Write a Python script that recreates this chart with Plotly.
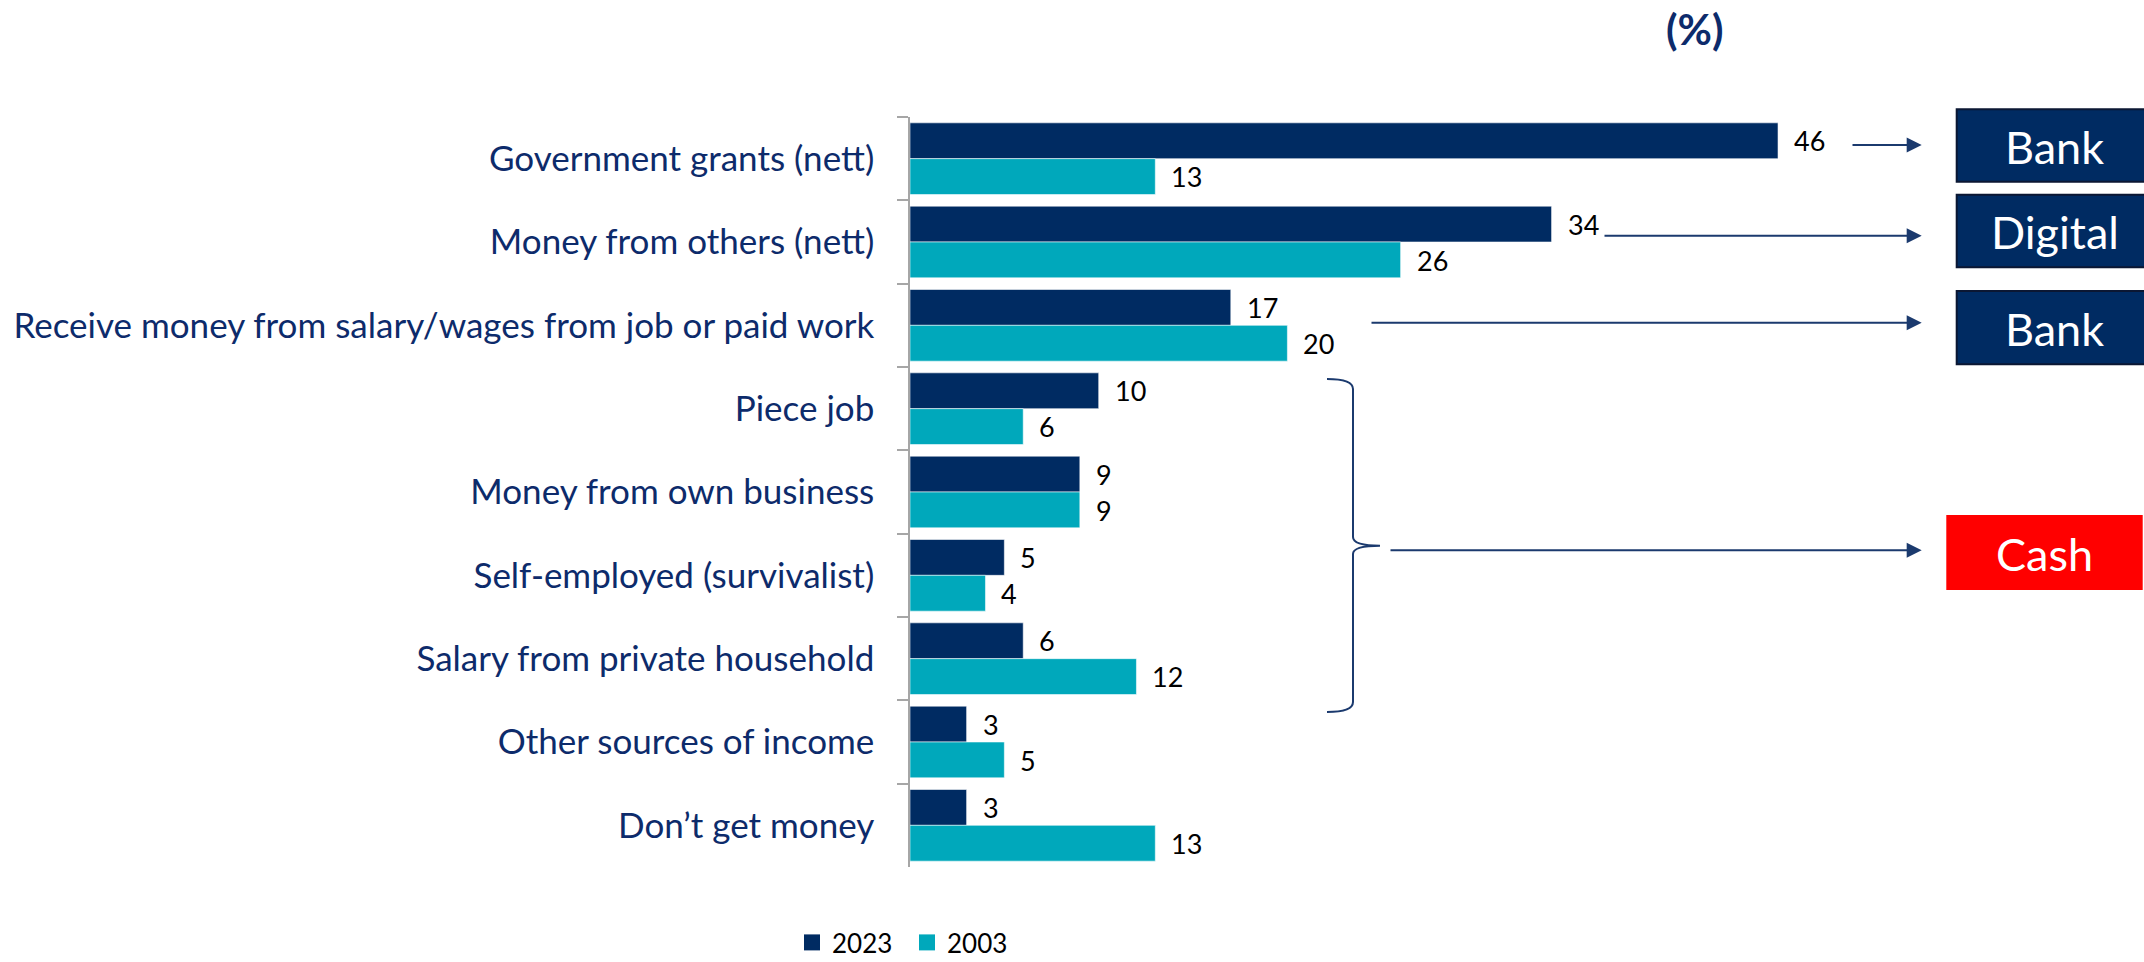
import plotly.graph_objects as go

# Income sources (top to bottom) and share of respondents, %
categories = [
    "Government grants (nett)",
    "Money from others (nett)",
    "Receive money from salary/wages from job or paid work",
    "Piece job",
    "Money from own business",
    "Self-employed (survivalist)",
    "Salary from private household",
    "Other sources of income",
    "Don\u2019t get money",
]
values_2023 = [46, 34, 17, 10, 9, 5, 6, 3, 3]
values_2003 = [13, 26, 20, 6, 9, 4, 12, 5, 13]
series_names = ["2023", "2003"]

# Channel boxes on the right: label, fill colour
channels = [("Bank", "#002B62"), ("Digital", "#002B62"), ("Bank", "#002B62"), ("Cash", "#FF0000")]

NAVY = "#002B62"
TEAL = "#00A8BB"
LABEL = "#0D2B6B"
ARROW = "#1B3A6E"

W, H = 2144, 962
L, R, T, B = 910, 8, 117, 95
PW, PH = W - L - R, H - T - B
PX_PER_UNIT = 18.87


def px(x):
    return (x - L) / PW


def py(y):
    return 1 - (y - T) / PH


fig = go.Figure()
for name, vals, col, shift in [(series_names[0], values_2023, NAVY, 18),
                               (series_names[1], values_2003, TEAL, -18)]:
    fig.add_trace(go.Bar(
        y=categories, x=vals, name=name, orientation="h", showlegend=False,
        marker=dict(color=col, line=dict(color="rgba(255,255,255,0.55)", width=1)),
        hoverinfo="skip", legendgroup=name,
    ))
    for c, v in zip(categories, vals):
        fig.add_annotation(
            x=v, y=c, xref="x", yref="y", text=str(v), showarrow=False,
            xanchor="left", yanchor="middle", xshift=14, yshift=shift,
            font=dict(family="Lato", size=27, color="#000000"),
        )

# Legend entries with larger square swatches
for name, col in [(series_names[0], NAVY), (series_names[1], TEAL)]:
    fig.add_trace(go.Scatter(
        x=[None], y=[None], mode="markers", name=name, legendgroup=name,
        marker=dict(symbol="square", size=18, color=col), hoverinfo="skip",
    ))

shapes = []
annotations = []

# Channel boxes
boxes = [(1956.7, 109.3, 2160, 181.7), (1956.7, 194.7, 2160, 267.3),
         (1956.7, 291.0, 2160, 364.3), (1947.3, 516.0, 2141.7, 589.0)]
for (label, fill), (x0, y0, x1, y1) in zip(channels, boxes):
    border = "#0B1733" if fill != "#FF0000" else "#FF0000"
    shapes.append(dict(type="rect", xref="paper", yref="paper",
                       x0=px(x0), x1=px(x1), y0=py(y1), y1=py(y0),
                       fillcolor=fill, line=dict(color=border, width=2), layer="above"))
    cx = 2054.7 if fill != "#FF0000" else (x0 + x1) / 2
    annotations.append(dict(x=px(cx), y=py((y0 + y1) / 2 + 1), xref="paper", yref="paper",
                            text=label, showarrow=False, xanchor="center", yanchor="middle",
                            font=dict(family="Lato", size=45, color="#FFFFFF")))

# Arrows pointing to the channels
arrows = [(1851, 145.0), (1603, 235.7), (1370, 322.7), (1389, 550.3)]
tip_x = 1921.7
for x_start, y in arrows:
    annotations.append(dict(x=px(tip_x), y=py(y), xref="paper", yref="paper",
                            ax=x_start - tip_x, ay=0, axref="pixel", ayref="pixel",
                            text="", showarrow=True, arrowhead=2, arrowsize=1.5,
                            arrowwidth=2, arrowcolor=ARROW))

# Curly brace grouping the informal income sources
brace_pts = [
    ("M", 1327, 379), ("Q", 1353, 379, 1353, 389), ("L", 1353, 537),
    ("Q", 1353, 545.7, 1380, 545.7), ("Q", 1353, 545.7, 1353, 554),
    ("L", 1353, 702), ("Q", 1353, 712, 1327, 712),
]
path = ""
for seg in brace_pts:
    cmd, coords = seg[0], seg[1:]
    pts = []
    for i in range(0, len(coords), 2):
        pts.append(f"{px(coords[i]):.5f},{py(coords[i + 1]):.5f}")
    path += cmd + " ".join(pts) + " "
shapes.append(dict(type="path", xref="paper", yref="paper", path=path.strip(),
                   line=dict(color=ARROW, width=2)))

# Unit note
annotations.append(dict(x=px(1694), y=py(29.5), xref="paper", yref="paper",
                        text="<b>(%)</b>", showarrow=False, xanchor="center", yanchor="middle",
                        font=dict(family="Lato", size=42, color="#0D2B6B")))

fig.update_layout(
    width=W, height=H,
    margin=dict(l=L, r=R, t=T, b=B, pad=0, autoexpand=False),
    paper_bgcolor="#FFFFFF", plot_bgcolor="#FFFFFF",
    barmode="group", bargap=0.14, bargroupgap=0,
    showlegend=True,
    legend=dict(orientation="h", x=px(792), y=py(966), xanchor="left", yanchor="bottom",
                font=dict(family="Lato", size=26, color="#000000"),
                itemsizing="trace", entrywidth=70,
                traceorder="normal", itemclick=False, itemdoubleclick=False),
    shapes=shapes,
    annotations=list(fig.layout.annotations) + annotations,
    font=dict(family="Lato"),
)
fig.update_xaxes(range=[0, PW / PX_PER_UNIT], visible=False, showgrid=False, zeroline=False)
fig.update_yaxes(
    autorange="reversed", type="category",
    showline=True, linecolor="#A6A6A6", linewidth=1.5,
    ticks="outside", tickson="boundaries", ticklen=11, tickcolor="#A6A6A6", tickwidth=1.5,
    ticklabelstandoff=27,
    tickfont=dict(family="Lato", size=35, color=LABEL),
    showgrid=False, zeroline=False,
)

fig.write_html("out.html")
